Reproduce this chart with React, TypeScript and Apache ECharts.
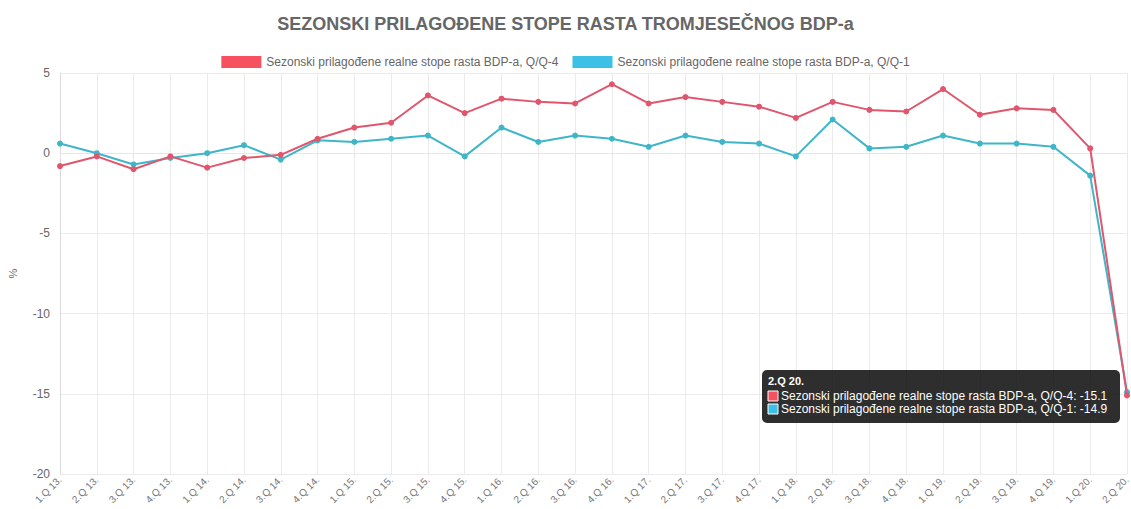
import React, { useEffect, useRef } from "react";
import * as echarts from "echarts";

const titleText = "SEZONSKI PRILAGOĐENE STOPE RASTA TROMJESEČNOG BDP-a";
const seriesNames = [
  "Sezonski prilagođene realne stope rasta BDP-a, Q/Q-4",
  "Sezonski prilagođene realne stope rasta BDP-a, Q/Q-1",
];
const categories = [
  "1.Q 13.", "2.Q 13.", "3.Q 13.", "4.Q 13.",
  "1.Q 14.", "2.Q 14.", "3.Q 14.", "4.Q 14.",
  "1.Q 15.", "2.Q 15.", "3.Q 15.", "4.Q 15.",
  "1.Q 16.", "2.Q 16.", "3.Q 16.", "4.Q 16.",
  "1.Q 17.", "2.Q 17.", "3.Q 17.", "4.Q 17.",
  "1.Q 18.", "2.Q 18.", "3.Q 18.", "4.Q 18.",
  "1.Q 19.", "2.Q 19.", "3.Q 19.", "4.Q 19.",
  "1.Q 20.", "2.Q 20.",
];
const qq4 = [
  -0.8, -0.2, -1.0, -0.2, -0.9, -0.3, -0.1, 0.9, 1.6, 1.9, 3.6, 2.5, 3.4, 3.2, 3.1,
  4.3, 3.1, 3.5, 3.2, 2.9, 2.2, 3.2, 2.7, 2.6, 4.0, 2.4, 2.8, 2.7, 0.3, -15.1,
];
const qq1 = [
  0.6, 0.0, -0.7, -0.3, 0.0, 0.5, -0.4, 0.8, 0.7, 0.9, 1.1, -0.2, 1.6, 0.7, 1.1,
  0.9, 0.4, 1.1, 0.7, 0.6, -0.2, 2.1, 0.3, 0.4, 1.1, 0.6, 0.6, 0.4, -1.4, -14.9,
];
const yMin = -20;
const yMax = 5;
const yStep = 5;
const yName = "%";

const legendColors = ["#f7505f", "#3cc0e6"];
const lineColors = ["#e0566c", "#3fb6c8"];

export default function App() {
  const ref = useRef<HTMLDivElement>(null);
  useEffect(() => {
    if (!ref.current) return;
    const chart = echarts.init(ref.current, null, { renderer: "svg" });
    const last = categories.length - 1;
    const font = "Liberation Sans, Arial, sans-serif";
    chart.setOption({
      animation: false,
      textStyle: { fontFamily: font },
      title: {
        text: titleText,
        left: "center",
        top: 10,
        textStyle: { fontSize: 18, fontWeight: "bold", color: "#666", fontFamily: font },
      },
      legend: {
        top: 51,
        left: "center",
        itemWidth: 40,
        itemHeight: 12,
        itemGap: 14,
        icon: "rect",
        textStyle: { fontSize: 12, color: "#666", fontFamily: font },
        data: seriesNames.map((n, i) => ({
          name: n,
          itemStyle: { color: legendColors[i], borderWidth: 0 },
        })),
      },
      grid: { left: 60, right: 4, top: 73, bottom: 35, outerBoundsMode: "none", containLabel: false },
      xAxis: {
        type: "category",
        data: categories,
        boundaryGap: false,
        axisLine: { show: true, lineStyle: { color: "#e6e6e6" } },
        axisTick: { show: true, length: 5, alignWithLabel: true, lineStyle: { color: "#e6e6e6" } },
        splitLine: { show: true, lineStyle: { color: "#ebebeb" } },
        axisLabel: {
          rotate: 45,
          interval: 0,
          fontSize: 10,
          color: "#777",
          margin: 4,
          fontFamily: font,
        },
      },
      yAxis: {
        type: "value",
        min: yMin,
        max: yMax,
        interval: yStep,
        name: yName,
        nameLocation: "middle",
        nameGap: 42,
        nameTextStyle: { fontSize: 11, color: "#666" },
        axisLine: { show: true, lineStyle: { color: "#d9d9d9" } },
        axisTick: { show: false },
        splitLine: { show: true, lineStyle: { color: "#ebebeb" } },
        axisLabel: { fontSize: 12, color: "#666", margin: 10, fontFamily: font },
      },
      series: [qq4, qq1].map((d, i) => ({
        name: seriesNames[i],
        type: "line",
        data: d,
        symbol: "circle",
        symbolSize: 6,
        lineStyle: { width: 2, color: lineColors[i] },
        itemStyle: { color: lineColors[i] },
        z: i === 0 ? 3 : 2,
      })),
      graphic: [
        {
          type: "group",
          right: 11,
          top: 370,
          z: 100,
          children: [
            {
              type: "rect",
              z: 100,
              shape: { x: 0, y: 0, width: 358, height: 53, r: 5 },
              style: { fill: "rgba(0,0,0,0.82)" },
            },
            {
              type: "text",
              z: 101,
              x: 6,
              y: 5,
              style: {
                text: categories[last],
                fill: "#fff",
                fontSize: 11,
                fontWeight: "bold",
                fontFamily: font,
              },
            },
            ...[qq4, qq1].flatMap((d, i) => [
              {
                type: "rect",
                z: 101,
                shape: { x: 6, y: 21 + i * 13, width: 10, height: 10 },
                style: { fill: legendColors[i], stroke: "#fff", lineWidth: 1 },
              },
              {
                type: "text",
                z: 101,
                x: 19,
                y: 20 + i * 13,
                style: {
                  text: `${seriesNames[i]}: ${d[last]}`,
                  fill: "#fff",
                  fontSize: 12,
                  fontFamily: font,
                },
              },
            ]),
          ],
        },
      ],
    });
    return () => chart.dispose();
  }, []);
  return <div ref={ref} style={{ width: 1131, height: 509, position: "absolute", left: 0, top: 0 }} />;
}
